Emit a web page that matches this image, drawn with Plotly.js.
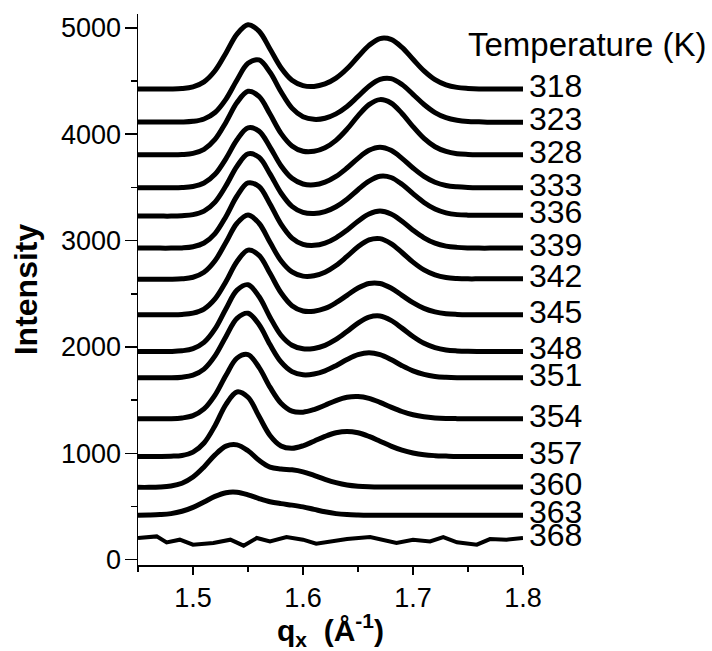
<!DOCTYPE html>
<html>
<head>
<meta charset="utf-8">
<script src="https://cdn.plot.ly/plotly-3.0.1.min.js"></script>
<style>
  html, body { margin: 0; padding: 0; background: #ffffff; }
  #chart { width: 712px; height: 651px; }
</style>
</head>
<body>
<div id="chart"></div>
<script>
// q_x grid (Å^-1)
const q = [1.45,1.46,1.47,1.48,1.49,1.50,1.51,1.52,1.53,1.54,1.55,1.56,1.57,1.58,1.59,1.60,1.61,1.62,
           1.63,1.64,1.65,1.66,1.67,1.68,1.69,1.70,1.71,1.72,1.73,1.74,1.75,1.76,1.77,1.78,1.79,1.80];

// Temperatures (K)
const temps = ['318','323','328','333','336','339','342','345','348','351','354','357','360','363','368'];

// Offset intensity of each fitted curve
const i318 = [4425,4425,4425,4425,4429,4445,4492,4596,4764,4941,5029,4969,4801,4625,4507,4457,4449,4473,
              4527,4615,4728,4835,4899,4891,4816,4704,4595,4513,4464,4440,4430,4425,4425,4425,4425,4425];
const i323 = [4115,4115,4115,4115,4115,4121,4143,4204,4330,4510,4666,4698,4582,4399,4245,4164,4140,4150,
              4191,4261,4355,4451,4515,4522,4467,4375,4279,4203,4155,4131,4120,4117,4113,4113,4113,4113];
const i328 = [3806,3806,3806,3806,3809,3820,3858,3951,4113,4297,4403,4355,4189,4008,3890,3840,3839,3872,
              3942,4047,4172,4278,4325,4293,4195,4071,3960,3882,3838,3817,3810,3807,3806,3806,3806,3806];
const i333 = [3497,3497,3497,3497,3499,3509,3541,3623,3771,3948,4060,4029,3879,3704,3585,3532,3524,3549,
              3603,3682,3773,3848,3877,3848,3773,3682,3603,3548,3518,3505,3499,3497,3497,3497,3497,3497];
const i336 = [3230,3230,3230,3230,3234,3244,3277,3362,3516,3699,3815,3783,3627,3447,3321,3265,3254,3272,
              3318,3389,3478,3559,3604,3593,3529,3441,3358,3296,3260,3244,3239,3238,3238,3238,3238,3238];
const i339 = [2929,2929,2929,2929,2931,2942,2977,3066,3227,3419,3542,3508,3344,3155,3024,2965,2955,2976,
              3026,3098,3182,3250,3277,3250,3182,3098,3026,2976,2948,2936,2931,2929,2929,2929,2929,2929];
const i342 = [2636,2636,2636,2636,2640,2655,2702,2810,2984,3163,3241,3163,2984,2810,2705,2666,2669,2702,
              2765,2851,2941,3006,3018,2972,2888,2797,2724,2677,2652,2643,2640,2640,2640,2640,2640,2640];
const i345 = [2303,2303,2303,2303,2306,2318,2356,2451,2615,2803,2910,2861,2692,2509,2388,2338,2336,2362,
              2416,2485,2554,2597,2597,2554,2485,2416,2362,2330,2313,2306,2303,2303,2303,2303,2303,2303];
const i348 = [1958,1958,1958,1958,1964,1984,2043,2170,2360,2534,2585,2474,2280,2110,2016,1982,1986,2015,
              2070,2145,2224,2280,2291,2250,2177,2098,2034,1994,1972,1963,1959,1958,1958,1958,1958,1958];
const i351 = [1710,1710,1710,1710,1716,1735,1792,1916,2099,2268,2317,2210,2022,1859,1768,1738,1745,1775,
              1824,1881,1927,1945,1927,1881,1824,1775,1742,1723,1715,1711,1710,1710,1710,1710,1710,1710];
const i354 = [1325,1325,1325,1325,1332,1354,1417,1547,1734,1895,1928,1808,1622,1471,1397,1387,1411,1452,
              1496,1527,1534,1517,1479,1434,1393,1362,1343,1333,1328,1326,1325,1325,1325,1325,1325,1325];
const i357 = [971,971,971,973,980,1011,1097,1260,1460,1577,1527,1348,1168,1069,1048,1071,1114,1159,
              1193,1206,1193,1159,1114,1068,1030,1003,986,978,974,971,971,971,971,971,971,971];
const i360 = [680,680,683,693,719,777,872,985,1067,1079,1024,935,870,852,845,826,792,755,
              724,702,691,686,684,684,684,684,684,684,684,684,684,684,684,684,684,684];
const i363 = [418,420,424,433,455,492,543,595,630,634,610,575,545,527,513,496,473,450,
              433,424,420,418,418,418,418,418,418,418,418,418,418,418,418,418,418,418];

// 368 K: noisy flat trace (no fit)
const q368 = [1.45,1.467,1.476,1.488,1.500,1.5185,1.534,1.546,1.558,1.570,1.585,1.600,1.612,1.6245,
              1.640,1.661,1.673,1.685,1.700,1.7155,1.7275,1.740,1.758,1.770,1.785,1.80];
const i368 = [204,219,163,188,141,157,188,132,204,172,213,188,150,172,
              194,213,181,157,188,172,213,163,141,194,188,204];

const fitted = [i318,i323,i328,i333,i336,i339,i342,i345,i348,i351,i354,i357,i360,i363];

const traces = fitted.map((ys, k) => ({
  type: 'scatter', mode: 'lines', x: q, y: ys, name: temps[k] + ' K',
  line: {color: '#000000', width: 5, shape: 'spline', smoothing: 1},
  hoverinfo: 'skip'
}));
traces.push({
  type: 'scatter', mode: 'lines', x: q368, y: i368, name: '368 K',
  line: {color: '#000000', width: 4}, hoverinfo: 'skip'
});

const font = 'Arial, "Liberation Sans", Helvetica, sans-serif';

const annotations = traces.map((t, k) => ({
  x: t.x[t.x.length - 1], y: t.y[t.y.length - 1], xref: 'x', yref: 'y',
  text: temps[k], showarrow: false, xanchor: 'left', yanchor: 'middle',
  xshift: 4, yshift: 3, font: {family: font, size: 32, color: '#000'}
}));
annotations.push({
  xref: 'paper', yref: 'paper', x: 1.4805, y: 0.945, xanchor: 'right', yanchor: 'middle',
  text: 'Temperature (K)', showarrow: false, font: {family: font, size: 33, color: '#000'}
});

const layout = {
  width: 712, height: 651,
  margin: {l: 138, r: 189, t: 14, b: 86, pad: 0},
  paper_bgcolor: '#ffffff', plot_bgcolor: '#ffffff',
  showlegend: false,
  font: {family: font, color: '#000'},
  xaxis: {
    range: [1.45, 1.8], showgrid: false, zeroline: false,
    showline: true, linecolor: '#000', linewidth: 1.5,
    ticks: 'outside', ticklen: 8, tickwidth: 1.5, tickcolor: '#000',
    tick0: 1.5, dtick: 0.1, tickfont: {family: font, size: 27, color: '#000'},
    minor: {ticks: 'outside', ticklen: 5, tickwidth: 1.5, tickcolor: '#000', dtick: 0.05, tick0: 1.45, showgrid: false},
    title: {text: '<b>q<sub>x</sub>\u00A0\u00A0(Å<sup>-1</sup>)</b>', font: {family: font, size: 30, color: '#000'}, standoff: 6}
  },
  yaxis: {
    range: [-50, 5130], showgrid: false, zeroline: false,
    showline: true, linecolor: '#000', linewidth: 1.5,
    ticks: 'outside', ticklen: 12, tickwidth: 1.5, tickcolor: '#000',
    ticklabelstandoff: -2,
    tick0: 0, dtick: 1000, tickfont: {family: font, size: 27, color: '#000'},
    minor: {ticks: 'outside', ticklen: 6, tickwidth: 1.5, tickcolor: '#000', dtick: 500, tick0: 0, showgrid: false},
    title: {text: '<b>Intensity</b>', font: {family: font, size: 32, color: '#000'}, standoff: 14}
  },
  annotations: annotations
};

Plotly.newPlot('chart', traces, layout, {displayModeBar: false, staticPlot: true});
</script>
</body>
</html>
